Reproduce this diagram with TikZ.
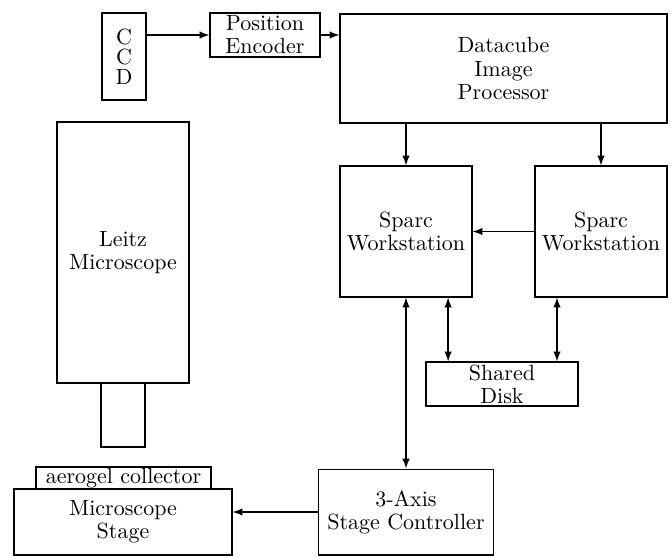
\documentclass[tikz,border=0pt]{standalone}
\usetikzlibrary{positioning}
\begin{document}
\begin{tikzpicture}[x=0.4545pt, y=-0.4545pt, line width=0.55pt,
		blk/.style={draw, rectangle, inner sep=0.5pt, align=center, font=\fontsize{10}{10.5}\selectfont}]
		\useasboundingbox (0,0) rectangle (671,556);
		% camera and microscope
		\node[blk, minimum width=20pt, minimum height=39.5pt] (ccd) at (124, 56.5) {C\\[-1.5pt]C\\[-1.5pt]D};
		\node[blk, minimum width=50pt, minimum height=20pt] (enc) at (265, 35) {Position\\Encoder};
		\node[blk, minimum width=148.6pt, minimum height=49.5pt] (cube) at (503.5, 68.5) {Datacube\\Image\\Processor};
		\node[blk, minimum width=60pt, minimum height=118.6pt] (leitz) at (123, 252.5) {Leitz\\Microscope};
		\node[blk, minimum width=20pt, minimum height=29.1pt] (tube) at (123, 415) {};
		\node[blk, minimum width=79.5pt, minimum height=10pt] (aero) at (123.5, 478) {aerogel collector};
		\node[blk, minimum width=99.1pt, minimum height=30pt] (stage) at (123, 522) {Microscope\\Stage};
		% computers
		\node[blk, minimum width=60pt, minimum height=59.5pt] (sun1) at (406, 231.5) {Sparc\\Workstation};
		\node[blk, minimum width=60pt, minimum height=59.5pt] (sun2) at (601, 231.5) {Sparc\\Workstation};
		\node[blk, minimum width=69.1pt, minimum height=20pt] (disk) at (502, 384) {Shared\\Disk};
		\node[blk, minimum width=79.5pt, minimum height=39pt] (ctrl) at (406, 512) {3-Axis\\Stage Controller};
		% data paths
		\draw[-latex] (ccd.east |- enc.west) -- (enc.west);
		\draw[-latex] (enc.east) -- (enc.east -| cube.west);
		\draw[-latex] (cube.south -| sun1.north) -- (sun1.north);
		\draw[-latex] (cube.south -| sun2.north) -- (sun2.north);
		\draw[-latex] (sun2.west) -- (sun1.east);
		\draw[latex-latex] (sun1.south) -- (sun1.south |- ctrl.north);
		\draw[latex-latex] ([xshift=-24.5pt]disk.north) -- ([xshift=-24.5pt]disk.north |- sun1.south);
		\draw[latex-latex] ([xshift=25pt]disk.north) -- ([xshift=25pt]disk.north |- sun2.south);
		\draw[-latex] (ctrl.west) -- (ctrl.west -| stage.east);
	\end{tikzpicture}
\end{document}
